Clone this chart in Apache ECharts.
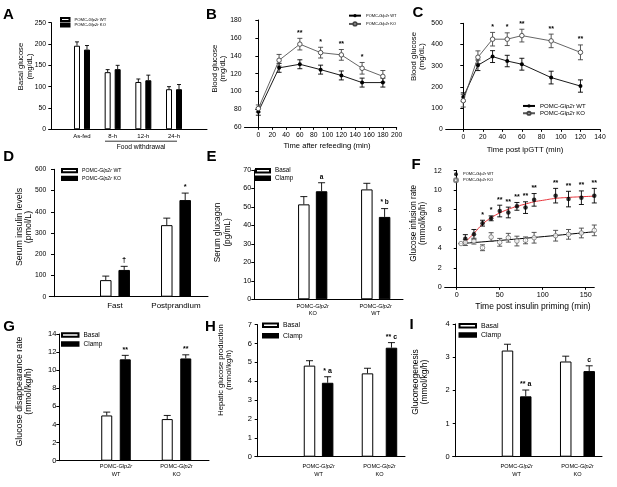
<!DOCTYPE html>
<html><head><meta charset="utf-8">
<script src="https://cdn.jsdelivr.net/npm/echarts@6/dist/echarts.min.js"></script>
<style>html,body{margin:0;padding:0;background:#fff}#c{width:617px;height:487px}</style>
</head><body><div id="c"></div>
<script>
// ---------------- DATA ----------------
// A: basal glucose (mg/dL)
const aCats = ['As-fed', '8-h', '12-h', '24-h'];
const aWT = [196, 134, 111, 94];
const aWTErr = [9, 6, 7, 6];
const aKO = [187, 141, 115, 94];
const aKOErr = [9.5, 9, 12, 11];
// B: blood glucose after refeeding
const bTime = [0, 30, 60, 90, 120, 150, 180];
const bWT = [77.5, 126.5, 130.5, 124.5, 118, 110, 110];
const bWTErr = [4, 5, 5, 5, 5, 5, 5];
const bKO = [81, 135, 153, 143.5, 141, 126, 117];
const bKOErr = [4, 6.5, 6.5, 6, 6, 6.5, 6.5];
const bSig = ['', '', '**', '*', '**', '*', ''];
const bTicks = [0, 20, 40, 60, 80, 100, 120, 140, 160, 180, 200];
// C: ipGTT
const cTime = [0, 15, 30, 45, 60, 90, 120];
const cWT = [152, 302, 343, 322, 307, 244, 204];
const cWTErr = [20, 25, 28, 27, 28, 30, 29];
const cKO = [135, 340, 425, 425, 442, 417, 363];
const cKOErr = [30, 30, 32, 30, 30, 32, 35];
const cSig = ['', '', '*', '*', '**', '**', '**'];
const cTicks = [0, 20, 40, 60, 80, 100, 120, 140];
// D: serum insulin (pmol/L)
const dCats = ['Fast', 'Postprandium'];
const dWT = [78, 337];
const dWTErr = [19, 33];
const dKO = [126, 455];
const dKOErr = [17, 33];
const dSig = ['\u2020', '*'];
// E: serum glucagon (pg/mL)
const eCats = ['POMC-{i|Glp2r}\nKO', 'POMC-{i|Glp2r}\nWT'];
const eBasal = [51.4, 59.5];
const eBasalErr = [4.2, 3.3];
const eClamp = [58.5, 44.6];
const eClampErr = [4.6, 4.5];
const eSig = ['a', '* b'];
// F: glucose infusion rate
const fTimeWT = [10, 20, 30, 40, 50, 60, 70, 80, 90, 115, 130, 145, 160];
const fWT = [5.0, 5.45, 6.6, 7.1, 7.85, 7.7, 8.33, 8.2, 9.0, 9.43, 9.08, 9.22, 9.43];
const fWTErr = [0.42, 0.5, 0.3, 0.25, 0.6, 0.55, 0.4, 0.6, 0.65, 0.75, 0.8, 0.7, 0.75];
const fSig = ['', '', '*', '*', '**', '**', '**', '**', '**', '**', '**', '**', '**'];
const fTimeKO = [5, 10, 20, 30, 40, 50, 60, 70, 80, 90, 115, 130, 145, 160];
const fKO = [4.5, 4.6, 4.75, 4.07, 5.17, 4.63, 5.1, 4.76, 4.83, 5.1, 5.31, 5.45, 5.59, 5.86];
const fKOErr = [0, 0.3, 0.3, 0.3, 0.45, 0.4, 0.45, 0.5, 0.35, 0.55, 0.55, 0.5, 0.5, 0.55];
const fFitWTx = [5, 10, 20, 30, 40, 50, 60, 70, 80, 90, 100, 115, 130, 145, 160];
const fFitWTy = [4.5, 4.7, 5.55, 6.5, 7.15, 7.65, 8.03, 8.33, 8.57, 8.8, 8.95, 9.15, 9.25, 9.32, 9.38];
const fFitKOx = [5, 80, 160];
const fFitKOy = [4.5, 5.05, 5.72];
const fTicks = [0, 50, 100, 150];
// G: glucose disappearance rate
const gCats = ['POMC-{i|Glp2r}\nWT', 'POMC-{i|Glp2r}\nKO'];
const gBasal = [5.0, 4.6];
const gBasalErr = [0.37, 0.4];
const gClamp = [11.2, 11.3];
const gClampErr = [0.44, 0.4];
const gSig = ['**', '**'];
// H: hepatic glucose production
const hCats = ['POMC-{i|Glp2r}\nWT', 'POMC-{i|Glp2r}\nKO'];
const hBasal = [4.83, 4.42];
const hBasalErr = [0.26, 0.27];
const hClamp = [3.92, 5.78];
const hClampErr = [0.32, 0.27];
const hSig = ['* a', '** c'];
// I: gluconeogenesis
const iCats = ['POMC-{i|Glp2r}\nWT', 'POMC-{i|Glp2r}\nKO'];
const iBasal = [3.2, 2.87];
const iBasalErr = [0.19, 0.16];
const iClamp = [1.82, 2.58];
const iClampErr = [0.19, 0.16];
const iSig = ['** a', 'c'];

// ---------------- BUILD ----------------
const FF = '"Liberation Sans", Arial, Helvetica, sans-serif';
const grid = [], xAxis = [], yAxis = [], series = [], legend = [], graphic = [];
const LBL = {};
const RICH_I = fs => ({ i: { fontStyle: 'italic', fontSize: fs, fontFamily: FF, color: '#000' } });

function addGrid(g) { grid.push({ left: g[0], top: g[1], width: g[2], height: g[3] }); return grid.length - 1; }
function yAx(gi, min, max, interval, fs) {
  return { type: 'value', gridIndex: gi, min, max, interval,
    axisLine: { show: true, lineStyle: { color: '#000', width: 1 } },
    axisTick: { show: true, length: 3, lineStyle: { color: '#000', width: 1 } },
    axisLabel: { fontSize: fs, color: '#000', fontFamily: FF, margin: 3 },
    splitLine: { show: false } };
}
function errSeries(gi, xs, vals, errs, both, cap, z, color) {
  return { type: 'custom', xAxisIndex: gi, yAxisIndex: gi, silent: true, z: z, clip: false,
    data: xs.map((x, i) => [x, both ? vals[i] - errs[i] : vals[i], vals[i] + errs[i]]),
    renderItem(params, api) {
      const x = api.value(0);
      const lo = api.coord([x, api.value(1)]), hi = api.coord([x, api.value(2)]);
      const st = { stroke: color || '#000', lineWidth: 0.9 };
      const ch = [
        { type: 'line', shape: { x1: lo[0], y1: lo[1], x2: hi[0], y2: hi[1] }, style: st },
        { type: 'line', shape: { x1: hi[0] - cap / 2, y1: hi[1], x2: hi[0] + cap / 2, y2: hi[1] }, style: st }];
      if (both) ch.push({ type: 'line', shape: { x1: lo[0] - cap / 2, y1: lo[1], x2: lo[0] + cap / 2, y2: lo[1] }, style: st });
      return { type: 'group', children: ch };
    } };
}
function annSeries(gi, xs, tops, labels, fs, gap) {
  return { type: 'custom', xAxisIndex: gi, yAxisIndex: gi, silent: true, z: 6, clip: false,
    data: xs.map((x, i) => [x, tops[i]]),
    renderItem(params, api) {
      const lab = labels[params.dataIndex];
      if (!lab) return null;
      const p = api.coord([api.value(0), api.value(1)]);
      return { type: 'text', x: p[0], y: p[1] - gap,
        style: { text: lab, align: 'center', verticalAlign: 'bottom', fontSize: fs, fontFamily: FF, fontWeight: 'bold', fill: '#000' } };
    } };
}
function addLegend(o, names) {
  legend.push({ left: o.left, top: o.top, orient: 'vertical', padding: 0, itemGap: 0,
    itemWidth: o.iw, itemHeight: o.ih, selectedMode: false, data: names.map(n => ({ name: n, icon: o.icon })),
    formatter: n => LBL[n],
    textStyle: { fontSize: o.fs, lineHeight: o.lh, color: '#000', fontFamily: FF, rich: RICH_I(o.fs) } });
}
function barPanel(o) {
  const gi = addGrid(o.g);
  xAxis.push({ type: 'value', gridIndex: gi, min: o.xmin, max: o.xmax,
    axisLine: { show: true, lineStyle: { color: '#000', width: 1 } }, axisTick: { show: false }, splitLine: { show: false },
    axisLabel: { customValues: o.cats.map((c, i) => i + 1), formatter: v => o.cats[Math.round(v) - 1] || '',
      fontSize: o.catFs, lineHeight: o.catLh, margin: o.catMargin, color: '#000', fontFamily: FF, rich: RICH_I(o.catFs) } });
  yAxis.push(yAx(gi, o.ymin, o.ymax, o.yint, o.tickFs));
  const p1 = o.cats.map((c, i) => i + 1 - o.off[i]);
  const p2 = o.cats.map((c, i) => i + 1 + o.off[i]);
  const n1 = o.id + '_1', n2 = o.id + '_2';
  LBL[n1] = o.names[0]; LBL[n2] = o.names[1];
  series.push({ type: 'bar', name: n1, xAxisIndex: gi, yAxisIndex: gi, barWidth: o.bw, barGap: '-100%', z: 2,
    data: p1.map((x, i) => [x, o.v1[i]]), itemStyle: { color: '#fff', borderColor: '#000', borderWidth: 1 } });
  series.push({ type: 'bar', name: n2, xAxisIndex: gi, yAxisIndex: gi, barWidth: o.bw, barGap: '-100%', z: 2,
    data: p2.map((x, i) => [x, o.v2[i]]), itemStyle: { color: '#000', borderColor: '#000', borderWidth: 1 } });
  series.push(errSeries(gi, p1, o.v1, o.e1, false, o.cap, 3));
  series.push(errSeries(gi, p2, o.v2, o.e2, false, o.cap, 3));
  if (o.sig) series.push(annSeries(gi, p2, o.v2.map((v, i) => v + o.e2[i]), o.sig, o.sigFs, o.sigGap));
  addLegend(Object.assign({ icon: 'rect' }, o.leg), [n1, n2]);
  return gi;
}
function numAxis(gi, min, max, ticks, fs) {
  return { type: 'value', gridIndex: gi, min, max,
    axisLine: { show: true, lineStyle: { color: '#000', width: 1 } },
    axisTick: { show: true, length: 2.5, customValues: ticks, lineStyle: { color: '#000', width: 1 } },
    axisLabel: { customValues: ticks, fontSize: fs, color: '#000', fontFamily: FF, margin: 4 },
    splitLine: { show: false } };
}
function linePanel(o) {
  const gi = addGrid(o.g);
  xAxis.push(numAxis(gi, o.xmin, o.xmax, o.ticks, o.tickFs));
  yAxis.push(yAx(gi, o.ymin, o.ymax, o.yint, o.tickFs));
  const n1 = o.id + '_1', n2 = o.id + '_2';
  LBL[n1] = 'POMC-{i|Glp2r} WT'; LBL[n2] = 'POMC-{i|Glp2r} KO';
  series.push(errSeries(gi, o.t, o.v1, o.e1, true, o.cap, 1));
  series.push(errSeries(gi, o.t, o.v2, o.e2, true, o.cap, 1, '#444'));
  series.push({ type: 'line', name: n1, xAxisIndex: gi, yAxisIndex: gi, z: 4, symbol: 'circle', symbolSize: 4,
    data: o.t.map((t, i) => [t, o.v1[i]]), lineStyle: { color: '#000', width: 0.9 }, itemStyle: { color: '#000' } });
  series.push({ type: 'line', name: n2, xAxisIndex: gi, yAxisIndex: gi, z: 5, symbol: 'circle', symbolSize: 4.5,
    data: o.t.map((t, i) => [t, o.v2[i]]), lineStyle: { color: '#555', width: 0.9 },
    itemStyle: { color: '#fff', borderColor: '#444', borderWidth: 0.9 } });
  series.push(annSeries(gi, o.t, o.v2.map((v, i) => v + o.e2[i]), o.sig, o.sigFs, 2));
  addLegend(o.leg, [n1, n2]);
  return gi;
}

// A
barPanel({ id: 'A', g: [49, 22.7, 158, 106.6], xmin: -0.076, xmax: 5.076, ymin: 0, ymax: 250, yint: 50, tickFs: 6.8,
  cats: aCats, catFs: 6, catLh: 7, catMargin: 3.5, off: [0.163, 0.163, 0.163, 0.163], bw: 6, cap: 4,
  v1: aWT, e1: aWTErr, v2: aKO, e2: aKOErr, names: ['POMC-{i|Glp2r} WT', 'POMC-{i|Glp2r} KO'],
  leg: { left: 60, top: 16.8, iw: 8.5, ih: 3, fs: 4.2, lh: 5.5 } });
// B
linePanel({ id: 'B', g: [244.5, 20, 152.2, 107.3], xmin: -20, xmax: 200, ticks: bTicks, ymin: 60, ymax: 180, yint: 20, tickFs: 6.8,
  t: bTime, v1: bWT, e1: bWTErr, v2: bKO, e2: bKOErr, sig: bSig, sigFs: 7, cap: 5,
  leg: { left: 348, top: 11.5, iw: 12, ih: 4, fs: 4, lh: 8.3 } });
// C
linePanel({ id: 'C', g: [445.7, 23.3, 154.3, 106], xmin: -18, xmax: 140, ticks: cTicks, ymin: 0, ymax: 500, yint: 100, tickFs: 6.8,
  t: cTime, v1: cWT, e1: cWTErr, v2: cKO, e2: cKOErr, sig: cSig, sigFs: 7, cap: 5,
  leg: { left: 522, top: 102.3, iw: 12, ih: 4, fs: 6, lh: 7.3 } });
// D
barPanel({ id: 'D', g: [49.3, 169.3, 158.7, 127.4], xmin: -0.077, xmax: 2.525, ymin: 0, ymax: 600, yint: 100, tickFs: 6.8,
  cats: dCats, catFs: 8, catLh: 9, catMargin: 4.5, off: [0.151, 0.151], bw: 11.5, cap: 7,
  v1: dWT, e1: dWTErr, v2: dKO, e2: dKOErr, names: ['POMC-{i|Glp2r} WT', 'POMC-{i|Glp2r} KO'],
  sig: dSig, sigFs: 7.5, sigGap: 2.5,
  leg: { left: 61, top: 166.9, iw: 15, ih: 3.3, fs: 5.2, lh: 7.6 } });
// E
barPanel({ id: 'E', g: [254.3, 170, 148.7, 129.3], xmin: 0.073, xmax: 2.433, ymin: 0, ymax: 70, yint: 10, tickFs: 7.2,
  cats: eCats, catFs: 5.6, catLh: 7.4, catMargin: 3.5, off: [0.141, 0.141], bw: 11.5, cap: 7,
  v1: eBasal, e1: eBasalErr, v2: eClamp, e2: eClampErr, names: ['Basal', 'Clamp'],
  sig: eSig, sigFs: 6.5, sigGap: 2.5,
  leg: { left: 255, top: 166.9, iw: 14, ih: 3.5, fs: 6.3, lh: 7.6 } });
// F
(function () {
  const gi = addGrid([444.7, 170.7, 149.6, 116.6]);
  xAxis.push(numAxis(gi, -14, 160, fTicks, 7.2));
  yAxis.push(yAx(gi, 0, 12, 2, 7.2));
  LBL.F_1 = 'POMC-{i|Glp2r} WT'; LBL.F_2 = 'POMC-{i|Glp2r} KO';
  series.push({ type: 'line', xAxisIndex: gi, yAxisIndex: gi, z: 2, smooth: true, showSymbol: false, symbol: 'none', silent: true,
    data: fFitWTx.map((x, i) => [x, fFitWTy[i]]), lineStyle: { color: '#e8333a', width: 1 } });
  series.push({ type: 'line', xAxisIndex: gi, yAxisIndex: gi, z: 2, smooth: true, showSymbol: false, symbol: 'none', silent: true,
    data: fFitKOx.map((x, i) => [x, fFitKOy[i]]), lineStyle: { color: '#000', width: 1 } });
  series.push(errSeries(gi, fTimeWT, fWT, fWTErr, true, 5, 3));
  series.push(errSeries(gi, fTimeKO, fKO, fKOErr, true, 5, 3, '#444'));
  series.push({ type: 'scatter', name: 'F_1', xAxisIndex: gi, yAxisIndex: gi, z: 5, symbol: 'circle', symbolSize: 4.5,
    data: fTimeWT.map((t, i) => [t, fWT[i]]), itemStyle: { color: '#000' } });
  series.push({ type: 'scatter', name: 'F_2', xAxisIndex: gi, yAxisIndex: gi, z: 5, symbol: 'circle', symbolSize: 4.5,
    data: fTimeKO.map((t, i) => [t, fKO[i]]), itemStyle: { color: '#fff', borderColor: '#666', borderWidth: 0.9 } });
  series.push(annSeries(gi, fTimeWT, fWT.map((v, i) => v + fWTErr[i]), fSig, 7, 2));
  addLegend({ left: 453, top: 171.5, iw: 4, ih: 4, fs: 4, lh: 5.7 }, ['F_1', 'F_2']);
})();
// G
barPanel({ id: 'G', g: [59.3, 334, 149.7, 126.7], xmin: 0.063, xmax: 2.537, ymin: 0, ymax: 14, yint: 2, tickFs: 7.5,
  cats: gCats, catFs: 5.6, catLh: 8, catMargin: 2, off: [0.153, 0.153], bw: 11, cap: 7,
  v1: gBasal, e1: gBasalErr, v2: gClamp, e2: gClampErr, names: ['Basal', 'Clamp'],
  sig: gSig, sigFs: 7, sigGap: 2,
  leg: { left: 61, top: 330.5, iw: 16.5, ih: 3.5, fs: 6.5, lh: 9 } });
// H
barPanel({ id: 'H', g: [255, 324.7, 150, 132], xmin: -0.044, xmax: 2.419, ymin: 0, ymax: 7, yint: 1, tickFs: 7.5,
  cats: hCats, catFs: 5.6, catLh: 7.6, catMargin: 6, off: [0.149, 0.197], bw: 11.5, cap: 7,
  v1: hBasal, e1: hBasalErr, v2: hClamp, e2: hClampErr, names: ['Basal', 'Clamp'],
  sig: hSig, sigFs: 7, sigGap: 2,
  leg: { left: 262, top: 320.1, iw: 15, ih: 3.5, fs: 6.8, lh: 10.4 } });
// I
barPanel({ id: 'I', g: [452.7, 324, 149.3, 132.7], xmin: -0.05, xmax: 2.403, ymin: 0, ymax: 4, yint: 1, tickFs: 7.5,
  cats: iCats, catFs: 5.6, catLh: 8, catMargin: 6, off: [0.15, 0.193], bw: 11.5, cap: 7,
  v1: iBasal, e1: iBasalErr, v2: iClamp, e2: iClampErr, names: ['Basal', 'Clamp'],
  sig: iSig, sigFs: 7, sigGap: 2,
  leg: { left: 458.5, top: 321, iw: 16.5, ih: 3.5, fs: 7, lh: 9.3 } });

// ---------------- TEXT (letters, axis titles) ----------------
function txt(t, x, y, fs, opts) {
  graphic.push(Object.assign({ type: 'text', x, y, silent: true,
    style: Object.assign({ text: t, fontSize: fs, fontFamily: FF, fill: '#000', align: 'center', verticalAlign: 'middle' }, (opts && opts.style) || {}) },
    (opts && opts.el) || {}));
}
function ytitle(t, x, y, fs, lh) { txt(t, x, y, fs, { el: { rotation: Math.PI / 2 }, style: { lineHeight: lh } }); }
[['A', 3, 7.5], ['B', 206, 7.5], ['C', 412.5, 5], ['D', 3.3, 149.2], ['E', 206.5, 149.2], ['F', 411.5, 157],
 ['G', 3.3, 319.5], ['H', 205, 319.2], ['I', 409.5, 317.5]].forEach(l =>
  txt(l[0], l[1], l[2], 15, { style: { align: 'left', verticalAlign: 'top', fontWeight: 'bold', lineHeight: 15 } }));

ytitle('Basal glucose\n(mg/dL)', 25.5, 66.5, 7.6, 9);
ytitle('Blood glucose\n(mg/dL)', 219, 68.7, 7.6, 8);
ytitle('Blood glucose\n(mg/dL)', 418, 56.5, 7.8, 8);
ytitle('Serum insulin levels\n(pmol/L)', 24.5, 227, 8.8, 9);
ytitle('Serum glucagon\n(pg/mL)', 223, 232.5, 8.2, 10);
ytitle('Glucose infusion rate\n(mmol/kg/h)', 418.5, 223.3, 8.2, 9);
ytitle('Glucose disappearance rate\n(mmol/kg/h)', 24.5, 391.5, 8.8, 9);
ytitle('Hepatic glucose production\n(mmol/kg/h)', 225, 370, 7.6, 8);
ytitle('Gluconeogenesis\n(mmol/kg/h)', 420.5, 382, 8.5, 9);

txt('Time after refeeding (min)', 327, 145.6, 7.6);
txt('Time post ipGTT (min)', 525, 150, 7.7);
txt('Time post insulin priming (min)', 533, 306.7, 8.5);
txt('Food withdrawal', 141, 147.3, 6.7);
graphic.push({ type: 'line', silent: true, shape: { x1: 105, y1: 141.2, x2: 177, y2: 141.2 }, style: { stroke: '#000', lineWidth: 0.8 } });

const chart = echarts.init(document.getElementById('c'), null, { renderer: 'canvas' });
chart.setOption({ animation: false, backgroundColor: '#fff', textStyle: { fontFamily: FF },
  grid, xAxis, yAxis, series, legend, graphic });
</script></body></html>
